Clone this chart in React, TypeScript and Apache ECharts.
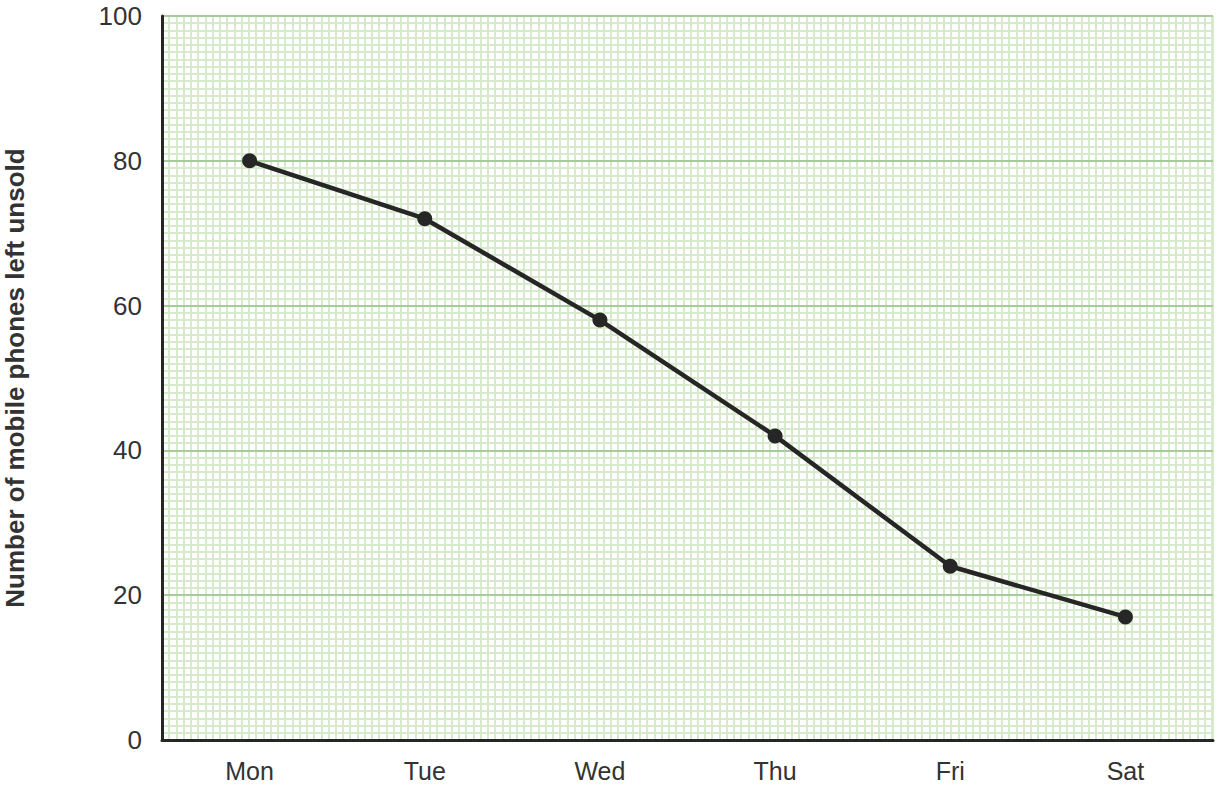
import React, { useEffect, useRef } from "react";
import * as echarts from "echarts";

const days = ["Mon", "Tue", "Wed", "Thu", "Fri", "Sat"];
const unsold = [80, 72, 58, 42, 24, 17];
const yTicks = { min: 0, max: 100, interval: 20 };
const yName = "Number of mobile phones left unsold";

export default function App() {
  const ref = useRef<HTMLDivElement>(null);
  useEffect(() => {
    document.body.style.margin = "0";
    const chart = echarts.init(ref.current!, null, { renderer: "svg" });
    const minorX = 1051 / 7.24;
    const font = "Liberation Sans, Arial, sans-serif";
    chart.setOption({
      animation: false,
      backgroundColor: "#ffffff",
      grid: { left: 162, right: 7, top: 16, bottom: 46, containLabel: false, outerBoundsMode: "none" },
      xAxis: [
        {
          type: "category",
          data: days,
          boundaryGap: true,
          axisLine: { show: true, onZero: false, lineStyle: { color: "#262626", width: 3 } },
          axisTick: { show: false },
          axisLabel: { color: "#333333", fontSize: 25, margin: 18, fontFamily: font },
          splitLine: { show: false },
          z: 5,
        },
        {
          type: "value",
          min: 0,
          max: minorX,
          interval: 1,
          show: true,
          axisLine: { show: false },
          axisTick: { show: false },
          axisLabel: { show: false },
          splitLine: { show: true, lineStyle: { color: "#d8eacc", width: 2 } },
          z: 0,
        },
      ],
      yAxis: [
        {
          type: "value",
          min: yTicks.min,
          max: yTicks.max,
          interval: yTicks.interval,
          name: yName,
          nameLocation: "middle",
          nameGap: 134,
          nameTextStyle: { color: "#333333", fontSize: 26, fontWeight: "bold", fontFamily: font },
          axisLine: { show: true, lineStyle: { color: "#262626", width: 3 } },
          axisTick: { show: false },
          axisLabel: { color: "#333333", fontSize: 26, margin: 20, fontFamily: font },
          splitLine: { show: true, lineStyle: { color: "#a6cc9c", width: 2 } },
          z: 4,
        },
        {
          type: "value",
          min: 0,
          max: 100,
          interval: 1,
          axisLine: { show: false },
          axisTick: { show: false },
          axisLabel: { show: false },
          splitLine: { show: true, lineStyle: { color: "#d8eacc", width: 2 } },
          z: 0,
        },
      ],
      series: [
        {
          type: "line",
          data: unsold,
          xAxisIndex: 0,
          yAxisIndex: 0,
          symbol: "circle",
          symbolSize: 15,
          lineStyle: { color: "#262626", width: 4.5 },
          itemStyle: { color: "#262626" },
          z: 10,
        },
      ],
    });
    return () => chart.dispose();
  }, []);
  return <div ref={ref} style={{ width: 1220, height: 786 }} />;
}
